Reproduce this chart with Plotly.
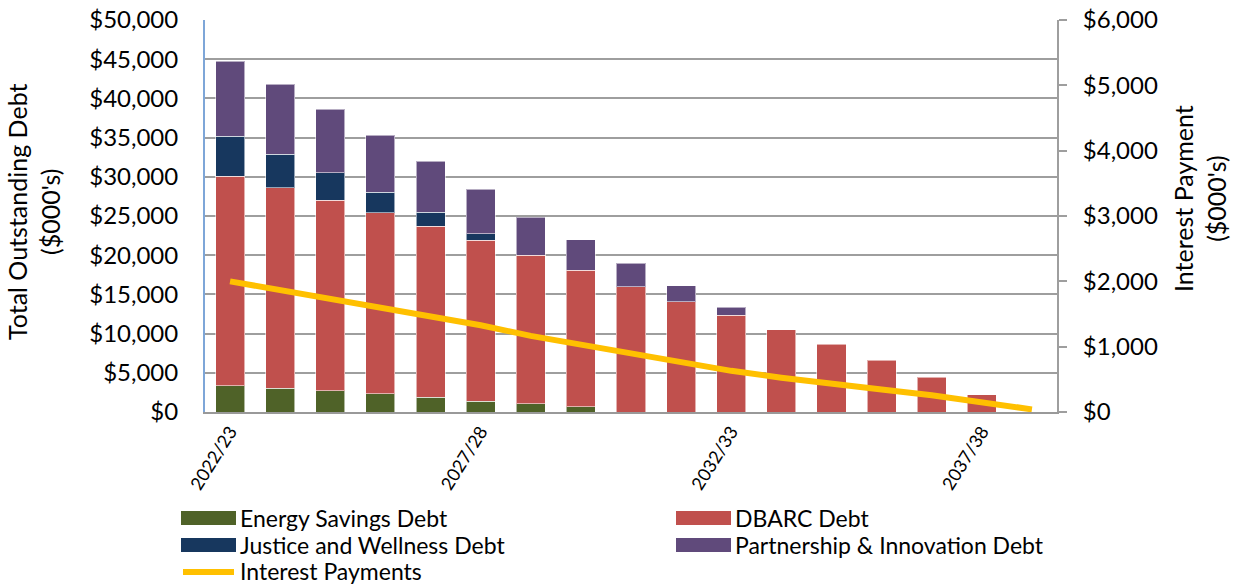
import plotly.graph_objects as go

# ---- data ($000's) ----
years = ["2022/23", "2023/24", "2024/25", "2025/26", "2026/27", "2027/28", "2028/29",
         "2029/30", "2030/31", "2031/32", "2032/33", "2033/34", "2034/35", "2035/36",
         "2036/37", "2037/38", "2038/39"]
tick_years = ["2022/23", "2027/28", "2032/33", "2037/38"]

energy_savings = [3320, 3020, 2680, 2300, 1880, 1400, 1070, 690, 0, 0, 0, 0, 0, 0, 0, 0, 0]
dbarc = [26740, 25580, 24320, 23100, 21820, 20500, 18930, 17390, 15950, 14080, 12330,
         10460, 8620, 6600, 4430, 2220, 0]
justice_wellness = [5140, 4300, 3500, 2660, 1770, 850, 0, 0, 0, 0, 0, 0, 0, 0, 0, 0, 0]
partnership_innovation = [9530, 8900, 8100, 7240, 6530, 5650, 4830, 3920, 3020, 2020, 1030,
                          0, 0, 0, 0, 0, 0]
interest_payments = [2000, 1865, 1745, 1608, 1466, 1328, 1165, 1032, 894, 758, 630, 525,
                     424, 343, 256, 153, 40]

series = [
    ("Energy Savings Debt", energy_savings, "#4F6228"),
    ("DBARC Debt", dbarc, "#C0504D"),
    ("Justice and Wellness Debt", justice_wellness, "#17375E"),
    ("Partnership & Innovation Debt", partnership_innovation, "#604A7B"),
]
line_name = "Interest Payments"
line_color = "#FFC000"

FONT = "Lato, 'Open Sans', sans-serif"
W, H = 1237, 586
L, R, T, B = 205, 180, 20, 174
PW, PH = W - L - R, H - T - B

fig = go.Figure()
for name, vals, col in series:
    fig.add_trace(go.Bar(
        x=years, y=[v if v else None for v in vals], name=name,
        marker=dict(color=col, line=dict(color="rgba(255,255,255,0.55)", width=1)),
        showlegend=False,
    ))
fig.add_trace(go.Scatter(
    x=years, y=interest_payments, name=line_name, yaxis="y2", mode="lines",
    line=dict(color=line_color, width=6), showlegend=False,
))

def px_x(p):
    return (p - L) / PW

def px_y(p):
    return (H - B - p) / PH

# manual legend (swatches + text)
legend_items = [
    (series[0][0], series[0][2], "bar", 181, 518),
    (series[1][0], series[1][2], "bar", 676, 518),
    (series[2][0], series[2][2], "bar", 181, 545),
    (series[3][0], series[3][2], "bar", 676, 545),
    (line_name, line_color, "line", 181, 571),
]
shapes = []
annotations = []
for name, col, kind, x0, yc in legend_items:
    if kind == "bar":
        shapes.append(dict(type="rect", xref="paper", yref="paper",
                           x0=px_x(x0), x1=px_x(x0 + 55), y0=px_y(yc - 7), y1=px_y(yc + 7),
                           fillcolor=col, line=dict(width=0)))
    else:
        shapes.append(dict(type="line", xref="paper", yref="paper",
                           x0=px_x(x0 + 2), x1=px_x(x0 + 53), y0=px_y(yc + 1), y1=px_y(yc + 1),
                           line=dict(color=col, width=6)))
    annotations.append(dict(text=name, xref="paper", yref="paper", x=px_x(x0 + 57), y=px_y(yc),
                            xanchor="left", yanchor="middle", showarrow=False,
                            font=dict(family=FONT, size=23, color="#000")))

# axis titles
annotations.append(dict(text="Total Outstanding Debt<br>($000's)", xref="paper", yref="paper",
                        x=px_x(33), y=px_y(212), textangle=-90, showarrow=False,
                        xanchor="center", yanchor="middle",
                        font=dict(family=FONT, size=25, color="#000")))
annotations.append(dict(text="Interest Payment<br>($000's)", xref="paper", yref="paper",
                        x=px_x(1199), y=px_y(199), textangle=-90, showarrow=False,
                        xanchor="center", yanchor="middle",
                        font=dict(family=FONT, size=25, color="#000")))

fig.update_layout(
    width=W, height=H,
    margin=dict(l=L, r=R, t=T, b=B, pad=0, autoexpand=False),
    paper_bgcolor="white", plot_bgcolor="white",
    barmode="stack", bargap=0.42,
    font=dict(family=FONT, size=24, color="#000"),
    shapes=shapes, annotations=annotations,
    xaxis=dict(type="category", categoryorder="array", categoryarray=years,
               tickmode="array", tickvals=tick_years, ticktext=tick_years,
               tickangle=-58, tickfont=dict(size=18),
               showline=True, linecolor="#999999", linewidth=2,
               showgrid=False, ticks="", range=[-0.5, 16.5], automargin=False),
    yaxis=dict(range=[0, 50000], dtick=5000, tickprefix="$", tickformat=",d",
               showgrid=True, gridcolor="#9e9e9e", gridwidth=2,
               showline=True, linecolor="#7ea6d8", linewidth=2,
               ticks="", ticklabelstandoff=20, zeroline=False,
               tickfont=dict(size=24), automargin=False),
    yaxis2=dict(range=[0, 6000], dtick=1000, tickprefix="$", tickformat=",d",
                overlaying="y", side="right", showgrid=False,
                showline=True, linecolor="#9e9e9e", linewidth=2,
                ticks="outside", ticklen=8, tickcolor="#9e9e9e", tickwidth=2,
                ticklabelstandoff=11, zeroline=False,
                tickfont=dict(size=24), automargin=False),
)

fig.write_html(
    "out.html",
    config={"displayModeBar": False},
    post_script="document.body.style.margin='0';document.body.style.overflow='hidden';",
)
